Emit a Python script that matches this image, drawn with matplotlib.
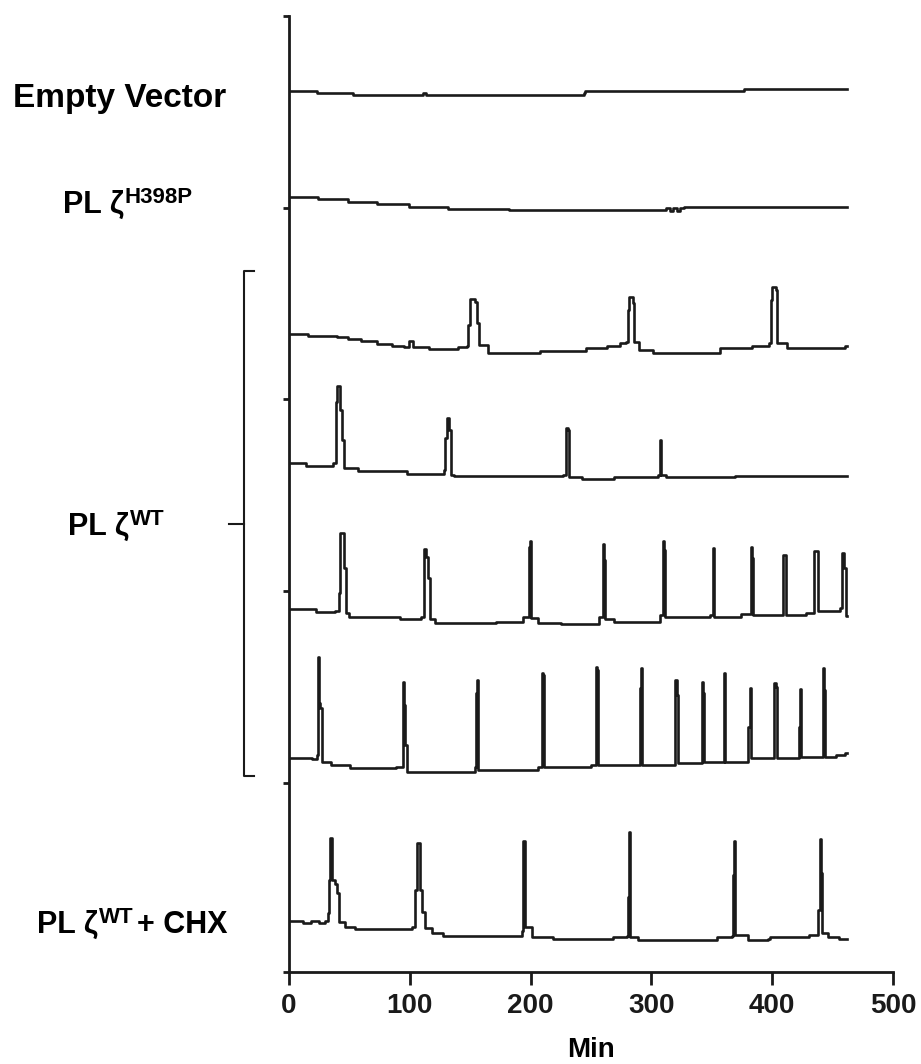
import matplotlib
matplotlib.use('Agg')
import matplotlib.pyplot as plt
from matplotlib.lines import Line2D

plt.rcParams['font.family'] = ['Liberation Sans', 'DejaVu Sans']
plt.rcParams['font.weight'] = 'bold'

W, H = 921, 1064

# traces: time (min) and signal (a.u., stacked offsets included)
# the recorder output is stepped, so each value holds until the next time point
empty_t = [0, 23, 53, 111, 113, 244, 245, 377, 462]
empty_v = [881, 879, 877, 879, 877, 879, 881, 883, 883]

h398p_t = [0, 24, 49, 73, 99, 132, 182, 312, 315, 318, 321, 324, 327, 462]
h398p_v = [775, 773, 770, 768, 765, 763, 762, 764, 761, 764, 761, 764, 765, 765]

wt1_t = [0, 16, 40, 49, 60, 73, 85, 95, 99, 103, 116, 140, 147, 148.5, 149.5, 154, 155.5,
         157, 165, 208, 246, 263, 274, 279, 280.5, 281.5, 284.5, 285.8, 290, 301, 317, 357,
         383, 397.5, 399, 400, 403, 404, 412, 460, 462]
wt1_v = [638, 636, 635, 633, 631, 628, 626, 625, 631, 625, 623, 625, 626, 647, 673, 670, 649,
         627, 619, 621, 624, 626, 629, 630, 662, 675, 669, 630, 622, 619, 619, 624,
         626, 629, 672, 685, 682, 629, 624, 626, 626]

wt2_t = [0, 14, 36.6, 38.7, 40, 42, 43.5, 45.5, 57, 98, 128.4, 129.4, 130.8, 132.6, 134, 136.3,
         226.7, 229.2, 231, 232, 242.6, 269.4, 305.8, 306.8, 308, 312, 369, 462]
wt2_v = [509, 506, 509, 570, 586, 562, 532, 504, 501, 498, 502, 534, 554, 542, 497, 496,
         497, 544, 542, 495, 493, 495, 497, 532, 497, 495, 496, 496]

wt3_t = [0, 22, 38, 41.3, 42.2, 45.4, 46.8, 50, 92, 109.3, 111.6, 113.5, 115.2, 116.8, 120.5,
         171, 193.4, 198.6, 199.4, 200.6, 206, 225, 256.6, 259.6, 260.6, 261.6, 269.4, 307.4,
         309.6, 310.6, 311.6, 333, 348.5, 350.6, 352, 374, 382.5, 383.5, 384.5, 409.2, 411.5,
         428, 435, 438, 456.3, 458, 459.6, 461, 462]
wt3_v = [363, 360, 361, 379, 439, 404, 359, 355, 353, 355, 423, 415, 394, 353, 349,
         350, 355, 425, 431, 354, 349, 348, 355, 428, 412, 353, 350, 357,
         431, 422, 355, 355, 357, 424, 355, 358, 425, 414, 357, 417, 357,
         359, 421, 361, 364, 419, 404, 356, 356]

wt4_t = [0, 19, 23, 23.9, 24.9, 26, 27.2, 34.8, 50.8, 88.8, 94.2, 95.2, 96.4, 97.4, 153.7, 154.7,
         155.5, 156.6, 206, 209.2, 210.6, 211.5, 250.4, 254, 255.2, 256.2, 290.3, 291, 292,
         319.8, 320.8, 321.8, 341.6, 342.6, 343.6, 360, 361, 380.3, 381.3, 382.3, 401.8, 403,
         404, 422.1, 423, 424, 441.7, 442.8, 444, 453, 460, 462]
wt4_v = [214, 213, 217, 315, 269, 264, 210, 207, 204, 205, 290, 267, 227, 200, 205, 279,
         292, 202, 205, 299, 297, 205, 207, 305, 302, 207, 284, 304, 207,
         292, 277, 209, 290, 279, 210, 299, 210, 245, 284, 214, 289, 285,
         214, 245, 283, 215, 304, 282, 215, 217, 219, 219]

chx_t = [0, 12, 18, 25, 30, 32, 33, 34, 36, 38, 40, 41.7, 46.4, 54.6, 101.6, 104.5,
         105.7, 108.5, 110, 112.6, 118, 127.7, 192.6, 193.5, 195.5, 200.9, 218.8, 268.5,
         279.5, 280.4, 281.2, 282.4, 289.2, 354, 366.5, 367.3, 368.2, 369.6, 380.2, 396.8,
         398.2, 430.7, 438.2, 439.2, 440.6, 441.6, 446.5, 455, 462]
chx_v = [51, 49, 51, 49, 51, 59, 92, 134, 92, 88, 79, 50, 45, 43, 45, 82,
         129, 82, 60, 44, 39, 36, 41, 131, 45, 35, 33, 35,
         36, 75, 140, 35, 32, 35, 36, 97, 131, 37, 32, 33,
         35, 37, 62, 133, 99, 39, 35, 33, 33]

traces = [(empty_t, empty_v), (h398p_t, h398p_v), (wt1_t, wt1_v), (wt2_t, wt2_v),
          (wt3_t, wt3_v), (wt4_t, wt4_v), (chx_t, chx_v)]

x_ticks = [0, 100, 200, 300, 400, 500]
y_ticks = [0, 189, 381, 573, 764, 956]


def px(x, y):
    return x / W, 1 - y / H


fig = plt.figure(figsize=(W / 100, H / 100), dpi=100)
ax = fig.add_axes([289 / W, 1 - 972 / H, (893 - 289) / W, (972 - 16) / H])

for t, v in traces:
    ax.plot(t, v, color='#1a1a1a', linewidth=1.9, drawstyle='steps-post')

ax.set_xlim(0, 500)
ax.set_ylim(0, 956)
ax.set_xticks(x_ticks)
ax.set_xticklabels([str(x) for x in x_ticks], fontsize=20, fontweight='bold')
ax.set_yticks(y_ticks)
ax.set_yticklabels([])
ax.tick_params(axis='x', direction='out', length=9, width=2, pad=6, colors='#1a1a1a')
ax.tick_params(axis='y', direction='out', length=4.3, width=2, colors='#1a1a1a')
for s in ['top', 'right']:
    ax.spines[s].set_visible(False)
for s in ['left', 'bottom']:
    ax.spines[s].set_linewidth(2)
    ax.spines[s].set_color('#1a1a1a')
ax.set_xlabel('Min', fontsize=20, fontweight='bold', labelpad=13)

# row labels with superscripts
renderer = fig.canvas.get_renderer()


def row_label(x, y, main, sup=None, tail=None, size=22, sup_size=16, rise=10):
    t = fig.text(*px(x, y), main, fontsize=size, fontweight='bold', va='baseline', ha='left')
    if sup is None:
        return
    bb = t.get_window_extent(renderer)
    s = fig.text(bb.x1 / W + 1 / W, (H - y + rise) / H, sup, fontsize=sup_size,
                 fontweight='bold', va='baseline', ha='left')
    if tail is None:
        return
    bb2 = s.get_window_extent(renderer)
    fig.text(bb2.x1 / W + 3 / W, 1 - y / H, tail, fontsize=size, fontweight='bold',
             va='baseline', ha='left')


row_label(13, 107, 'Empty Vector', size=24)
row_label(63, 213, 'PL \u03b6', 'H398P')
row_label(68, 535, 'PL \u03b6', 'WT')
row_label(37, 933, 'PL \u03b6', 'WT', '+ CHX')

# bracket grouping the wild-type traces
bx, by0, by1, bym = 243.5, 271, 776, 524
for xs, ys in [([254, bx, bx, 254], [by0, by0, by1, by1]), ([229, bx], [bym, bym])]:
    fig.add_artist(Line2D([x / W for x in xs], [1 - y / H for y in ys],
                          color='#1a1a1a', linewidth=1.5, transform=fig.transFigure))

fig.savefig('out.png', dpi=100)
